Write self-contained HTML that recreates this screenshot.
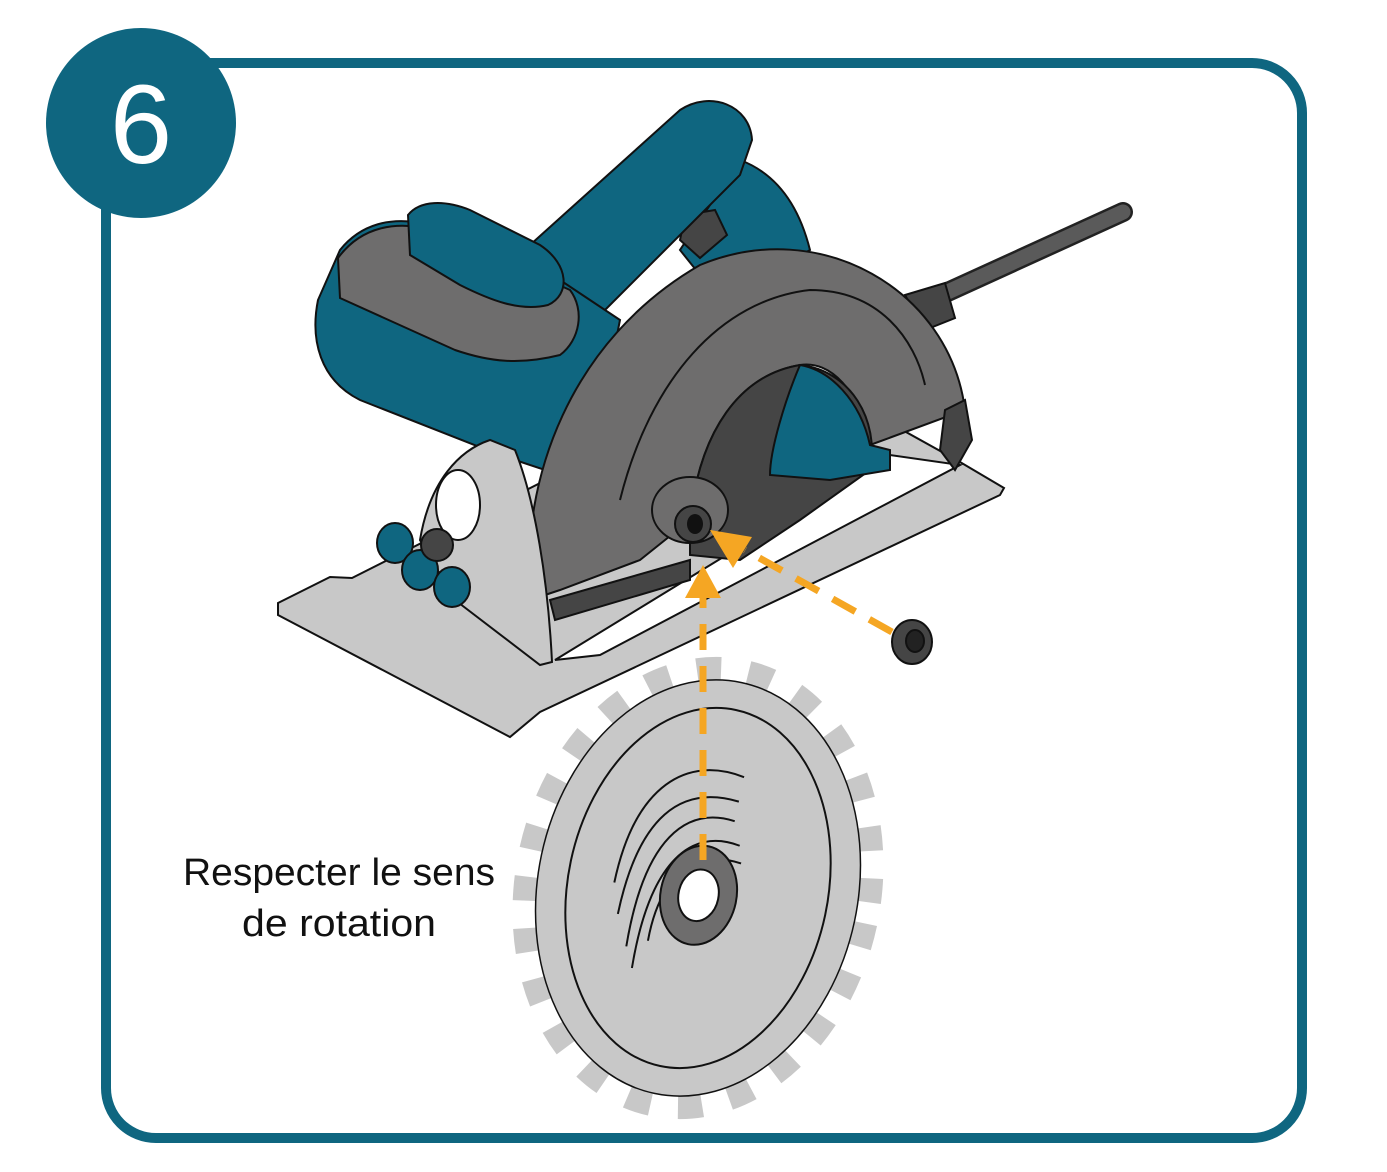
<!DOCTYPE html>
<html><head><meta charset="utf-8">
<style>
html,body{margin:0;padding:0;background:#fff;}
body{width:1387px;height:1167px;overflow:hidden;}
text{font-family:"Liberation Sans",sans-serif;}
</style></head>
<body>
<svg width="1387" height="1167" viewBox="0 0 1387 1167" xmlns="http://www.w3.org/2000/svg">
<rect x="106" y="63" width="1196" height="1075" rx="50" fill="#fff" stroke="#0f6680" stroke-width="10"/>
<circle cx="141" cy="123" r="95" fill="#0f6680"/>
<text x="141" y="163" text-anchor="middle" font-size="112" fill="#fff">6</text>

<line x1="930" y1="300" x2="1123" y2="212" stroke="#222" stroke-width="20" stroke-linecap="round"/>
<line x1="930" y1="300" x2="1123" y2="212" stroke="#5a5a5a" stroke-width="15" stroke-linecap="round"/>
<path d="M905,295 L945,283 L955,318 L925,330Z" fill="#454545" stroke="#111" stroke-width="2"/>

<path d="M278,603 L330,577 L352,578 L780,362 L960,462 L1004,488 L1000,495 L540,712 L510,737 L278,615Z" fill="#c8c8c8" stroke="#111" stroke-width="2"/>
<path d="M555,660 L890,455 L960,465 L600,655Z" fill="#fff" stroke="#111" stroke-width="2"/>

<path d="M740,160 C780,175 800,210 810,250 L720,300 L680,250Z" fill="#0f6680" stroke="#111" stroke-width="2"/>
<path d="M685,215 L715,210 L727,235 L700,258 L680,240Z" fill="#454545" stroke="#111" stroke-width="2"/>
<path d="M530,245 L680,110 C710,90 750,105 752,140 L740,175 L605,310 L560,300Z" fill="#0f6680" stroke="#111" stroke-width="2"/>
<path d="M340,250 C360,225 390,215 430,225 L560,280 L620,320 L600,420 L545,470 L500,455 L360,400 C320,380 310,340 318,300Z" fill="#0f6680" stroke="#111" stroke-width="2"/>
<path d="M338,258 C360,228 395,218 440,232 L570,290 C585,310 580,340 560,355 C520,365 490,362 455,350 L340,298Z" fill="#6e6d6d" stroke="#111" stroke-width="2"/>
<path d="M408,215 C420,200 445,200 470,210 L540,245 C570,265 570,295 548,305 C520,312 490,300 460,285 L410,255Z" fill="#0f6680" stroke="#111" stroke-width="2"/>

<path d="M530,600 C520,480 570,340 700,265 C820,215 950,290 965,410 L870,445 C860,390 830,360 800,365 C740,375 700,430 690,520 L640,560 L560,590Z" fill="#6e6d6d" stroke="#111" stroke-width="2"/>
<path d="M620,500 C650,380 720,300 810,290 C880,290 915,340 925,385" fill="none" stroke="#111" stroke-width="2"/>
<path d="M690,520 C700,430 740,375 800,365 C850,370 880,420 870,470 L800,520 L740,560 L690,555Z" fill="#454545" stroke="#111" stroke-width="2"/>
<path d="M800,365 C830,370 860,400 870,445 L890,450 L890,470 L830,480 L770,475 C770,450 785,400 800,365Z" fill="#0f6680" stroke="#111" stroke-width="2"/>
<path d="M945,410 L965,400 L972,440 L955,470 L940,450Z" fill="#454545" stroke="#111" stroke-width="2"/>
<path d="M550,600 L690,560 L690,580 L555,620Z" fill="#454545" stroke="#111" stroke-width="2"/>
<ellipse cx="690" cy="510" rx="38" ry="33" fill="#6e6d6d" stroke="#111" stroke-width="2"/>
<ellipse cx="693" cy="524" rx="18" ry="18" fill="#454545" stroke="#111" stroke-width="2"/>
<ellipse cx="695" cy="524" rx="8" ry="10" fill="#111"/>

<path d="M420,540 C430,480 460,450 490,440 L515,450 C535,500 548,580 552,662 L540,665 L455,600Z" fill="#c8c8c8" stroke="#111" stroke-width="2"/>
<ellipse cx="458" cy="505" rx="22" ry="35" fill="#fff" stroke="#111" stroke-width="2"/>
<g fill="#0f6680" stroke="#111" stroke-width="2">
<ellipse cx="395" cy="543" rx="18" ry="20"/>
<ellipse cx="420" cy="570" rx="18" ry="20"/>
<ellipse cx="452" cy="587" rx="18" ry="20"/>
<ellipse cx="437" cy="545" rx="16" ry="16" fill="#454545"/>
</g>

<ellipse cx="912" cy="642" rx="20" ry="22" fill="#454545" stroke="#111" stroke-width="2"/>
<ellipse cx="915" cy="641" rx="9" ry="11" fill="#222" stroke="#111" stroke-width="2"/>

<g transform="rotate(12 698 888)">
<ellipse cx="698" cy="888" rx="170" ry="220" fill="none" stroke="#c8c8c8" stroke-width="26" stroke-dasharray="24 27.5"/>
<ellipse cx="698" cy="888" rx="160" ry="210" fill="#c8c8c8" stroke="#111" stroke-width="1.5"/>
<ellipse cx="698" cy="888" rx="130" ry="182" fill="none" stroke="#111" stroke-width="2"/>
<path d="M615,900 C615,800 660,760 720,770 M625,930 C625,830 660,790 720,795 M640,960 C635,850 670,810 720,815 M650,980 C645,870 680,830 730,838 M660,950 C658,880 690,850 735,855" fill="none" stroke="#111" stroke-width="2"/>
<ellipse cx="700" cy="895" rx="38" ry="50" fill="#6e6d6d" stroke="#111" stroke-width="2"/>
<ellipse cx="700" cy="895" rx="20" ry="26" fill="#fff" stroke="#111" stroke-width="2"/>
</g>

<g stroke="#f5a623" stroke-width="7" fill="none" stroke-dasharray="26,16">
<line x1="703" y1="860" x2="703" y2="595"/>
<line x1="892" y1="632" x2="745" y2="550"/>
</g>
<polygon points="703,565 685,598 721,598" fill="#f5a623"/>
<polygon points="710,530 752,537 733,568" fill="#f5a623"/>

<text x="183" y="885" textLength="312" lengthAdjust="spacingAndGlyphs" font-size="38" fill="#111">Respecter le sens</text>
<text x="242" y="936" textLength="194" lengthAdjust="spacingAndGlyphs" font-size="38" fill="#111">de rotation</text>
</svg>
</body></html>
